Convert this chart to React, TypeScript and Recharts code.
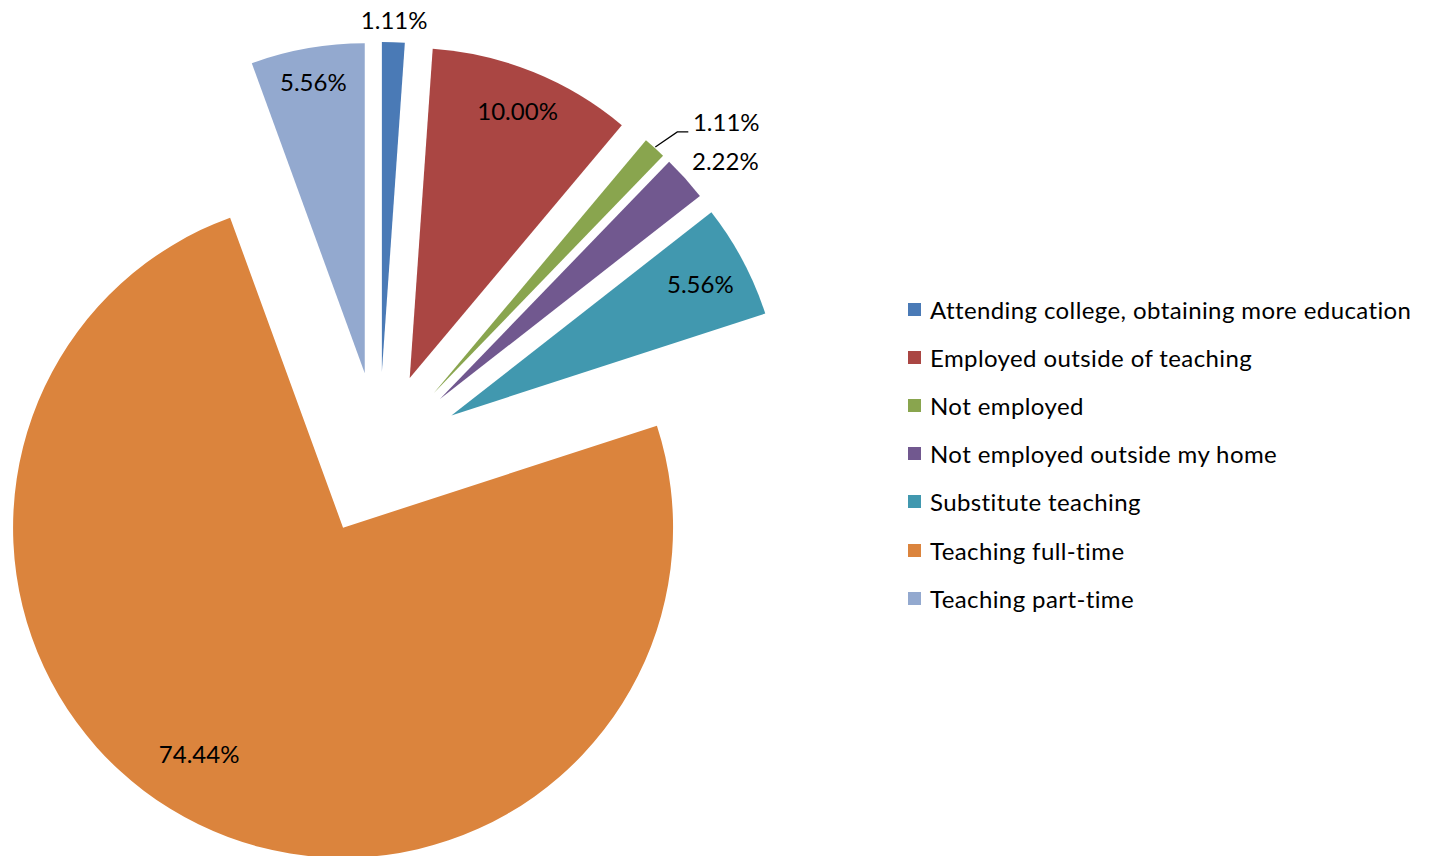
import React from 'react';
import { PieChart, Pie, Cell, Legend, Sector } from 'recharts';

const categories = [
  'Attending college, obtaining more education',
  'Employed outside of teaching',
  'Not employed',
  'Not employed outside my home',
  'Substitute teaching',
  'Teaching full-time',
  'Teaching part-time',
];
const shares = [1.11, 10.0, 1.11, 2.22, 5.56, 74.44, 5.56];
const colors = ['#4A7AB6', '#AA4643', '#89A54E', '#71588F', '#4198AF', '#DB843D', '#93A9CF'];

const data = categories.map((name, i) => ({ name, value: shares[i] }));

const FONT = 'Lato, "Open Sans", sans-serif';
const EXPLODE = 82;
const RAD = Math.PI / 180;

// label placement: radius offset relative to outer radius (px), angle shift (deg), anchor
const labelPlacement = [
  { dr: 23, da: 0, anchor: 'middle', leader: false },
  { dr: -42, da: 0, anchor: 'middle', leader: false },
  { dr: 45, da: -1.7, anchor: 'start', leader: true },
  { dr: 17, da: 1.4, anchor: 'start', leader: false },
  { dr: -48, da: 0, anchor: 'middle', leader: false },
  { dr: -62, da: -6.5, anchor: 'middle', leader: false },
  { dr: -34, da: 0, anchor: 'middle', leader: false },
];

const polar = (cx: number, cy: number, r: number, a: number) => ({
  x: cx + r * Math.cos(-a * RAD),
  y: cy + r * Math.sin(-a * RAD),
});

const renderSlice = (props: any) => {
  const { cx, cy, midAngle, outerRadius, startAngle, endAngle, percent, index } = props;
  const c = polar(cx, cy, EXPLODE, midAngle);
  const pl = labelPlacement[index];
  const p = polar(c.x, c.y, outerRadius + pl.dr, midAngle + pl.da);
  const text = `${(percent * 100).toFixed(2)}%`;
  let leader = null;
  if (pl.leader) {
    const a = polar(c.x, c.y, outerRadius + 1, midAngle);
    const b = polar(c.x, c.y, outerRadius + 27, midAngle - 1);
    leader = (
      <polyline
        points={`${a.x},${a.y} ${b.x},${b.y} ${b.x + 11},${b.y}`}
        fill="none"
        stroke="#000"
        strokeWidth={1.3}
      />
    );
  }
  return (
    <g key={`slice-${index}`}>
      <Sector
        cx={c.x}
        cy={c.y}
        innerRadius={0}
        outerRadius={outerRadius}
        startAngle={startAngle}
        endAngle={endAngle}
        fill={colors[index]}
        stroke="none"
      />
      {leader}
      <text
        x={p.x}
        y={p.y}
        textAnchor={pl.anchor}
        dominantBaseline="central"
        fontFamily={FONT}
        fontSize={24}
        fill="#000"
      >
        {text}
      </text>
    </g>
  );
};

const renderLegend = () => (
  <div style={{ fontFamily: FONT, fontSize: 24, letterSpacing: 0.4, color: '#000' }}>
    {categories.map((name, i) => (
      <div key={name} style={{ height: 48.2, display: 'flex', alignItems: 'center', whiteSpace: 'nowrap' }}>
        <span
          style={{ display: 'inline-block', width: 13, height: 13, background: colors[i], marginRight: 9 }}
        />
        <span>{name}</span>
      </div>
    ))}
  </div>
);

export default function App() {
  return (
    <div style={{ position: 'absolute', left: 0, top: 0, width: 1429, height: 856, background: '#fff' }}>
      <style>{`.recharts-surface{overflow:visible}`}</style>
      <PieChart width={1429} height={856}>
        <Pie
          data={data}
          dataKey="value"
          nameKey="name"
          cx={374}
          cy={449}
          innerRadius={0}
          outerRadius={330}
          startAngle={90}
          endAngle={-270}
          stroke="none"
          isAnimationActive={false}
          label={renderSlice}
          labelLine={false}
        >
          {data.map((d) => (
            <Cell key={d.name} fill="transparent" stroke="none" />
          ))}
        </Pie>
        <Legend
          layout="vertical"
          content={renderLegend}
          wrapperStyle={{ left: 908, top: 285, width: 520 }}
        />
      </PieChart>
    </div>
  );
}
